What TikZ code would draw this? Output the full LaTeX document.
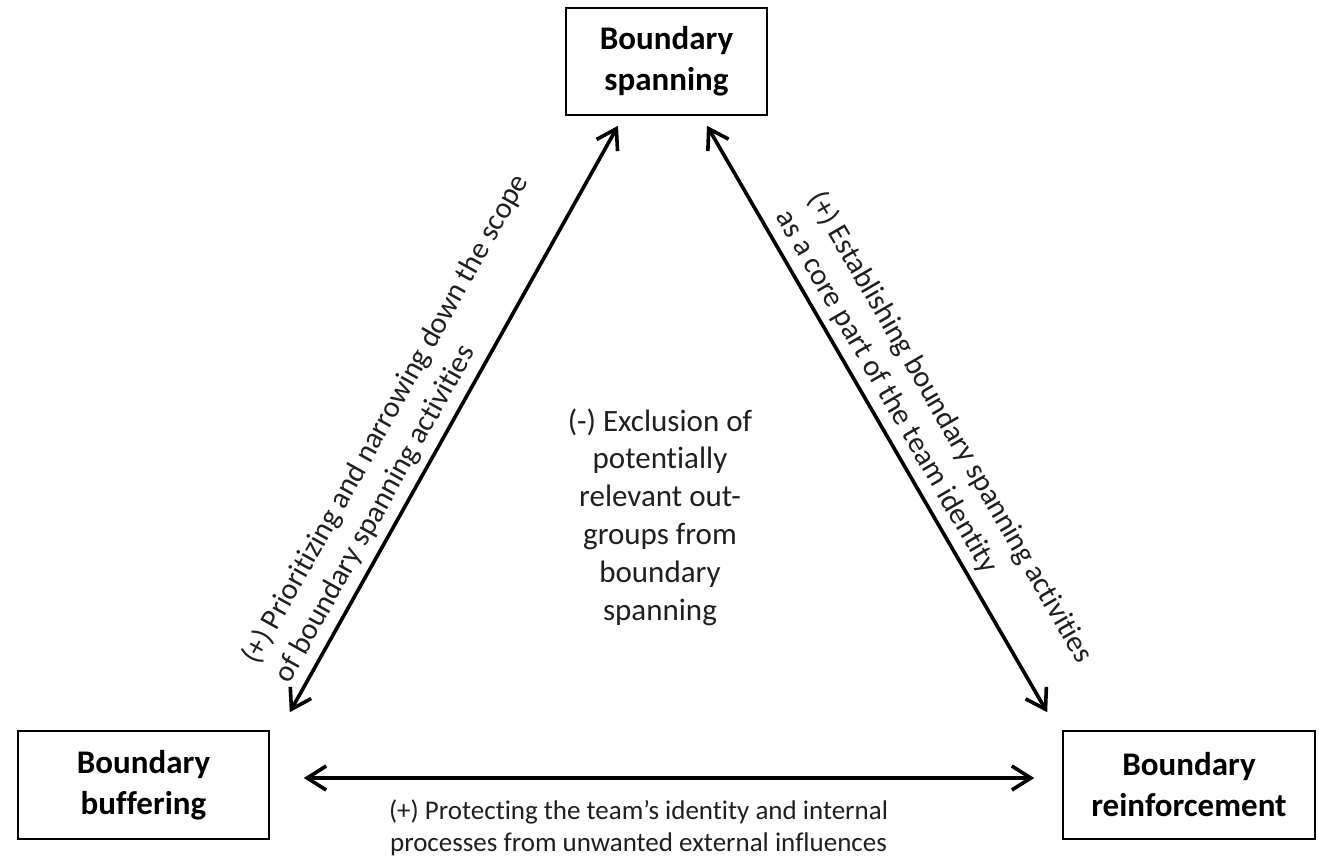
\documentclass[tikz,border=0pt]{standalone}
\usepackage{fontspec}
\setmainfont{Carlito}[Ligatures=NoCommon]
\usetikzlibrary{arrows.meta,calc}
\begin{document}
\begin{tikzpicture}[x=1pt,y=-1pt,
  box/.style={draw, line width=1.6pt, align=center, inner sep=0pt,
    font=\fontsize{33}{41}\selectfont\bfseries},
  lbl/.style={font=\fontsize{30}{37}\selectfont, text=black!88},
  arr/.style={line width=3.6pt, {Straight Barb[length=19pt,width=24pt]}-{Straight Barb[length=19pt,width=24pt]}}]
\useasboundingbox (0,0) rectangle (1319,859);
\node[box, minimum width=201pt, minimum height=107pt] (bs) at (666.5,61.5) {Boundary\\spanning};
\node[box, minimum width=251pt, minimum height=108pt] (bb) at (143.5,785) {Boundary\\buffering};
\node[box, minimum width=252pt, minimum height=108pt] (br) at (1189,785) {Boundary\\reinforcement};
\draw[arr] ($(bb.north east)+(20,-18)$) -- node[lbl, sloped, above, pos=0.45, align=left, inner sep=7pt] (l1) {(+) Prioritizing and narrowing down the scope\\of boundary spanning activities} ($(bs.south)+(-48.5,10)$);
\draw[arr] ($(bs.south)+(40.5,10)$) -- node[lbl, sloped, above, pos=0.565, align=left, inner sep=7pt] (l2) {(+) Establishing boundary spanning activities\\as a core part of the team identity} ($(br.north west)+(-15,-18)$);
\draw[arr] ($(bb.east)+(34,-7)$) -- ($(br.west)+(-28,-7)$);
\node[lbl, align=center, font=\fontsize{27}{32}\selectfont] (l3) at (638.5,828) {(+) Protecting the team’s identity and internal\\processes from unwanted external influences};
\node[lbl, align=center, font=\fontsize{31}{37.8}\selectfont] (l4) at (660,517) {(-) Exclusion of\\potentially\\relevant out-\\groups from\\boundary\\spanning};
\end{tikzpicture}
\end{document}
